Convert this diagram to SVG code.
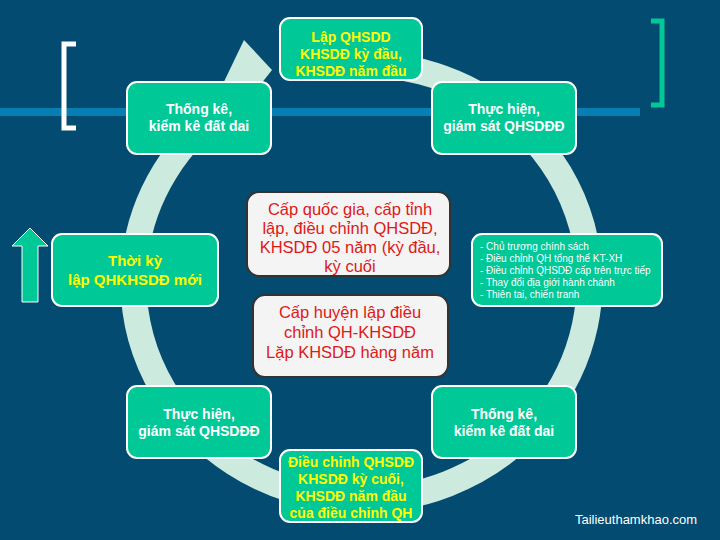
<svg xmlns="http://www.w3.org/2000/svg" width="720" height="540" viewBox="0 0 720 540">
<style>
.n{fill:#00c896;stroke:#ffffff;stroke-width:2}
.w{font-family:"Liberation Sans",Arial,sans-serif;font-size:14px;fill:#fff;text-anchor:middle;font-weight:bold}
.y{font-family:"Liberation Sans",Arial,sans-serif;font-size:14px;fill:#ffff00;text-anchor:middle;font-weight:bold}
.c{fill:#f4f4f4;stroke:#333;stroke-width:2}
.r{font-family:"Liberation Sans",Arial,sans-serif;font-size:16.5px;fill:#e01818;text-anchor:middle}
.s{font-family:"Liberation Sans",Arial,sans-serif;font-size:10px;fill:#fff}
</style>
<rect width="720" height="540" fill="#034b70"/>
<rect x="0" y="108" width="640" height="8" fill="#0a8cc4" opacity="0.8"/>
<path d="M76 44H64V128H76" fill="none" stroke="#fff" stroke-width="5"/>
<path d="M651 21H662V105H651" fill="none" stroke="#00c896" stroke-width="5"/>
<g id="connectors">
<path d="M318 68 A228 218 0 1 1 236 100" fill="none" stroke="#cdeade" stroke-width="26"/>
<polygon points="244,40 272,70 234,118 220,90" fill="#cdeade"/>
</g>
<path d="M30 228L12 246H22V302H38V246H48Z" fill="#00c896" stroke="#fff" stroke-width="1"/>
<g id="n1"><rect class="n" x="280" y="18" width="142" height="62" rx="10"/><text class="y" x="351" y="42">Lập QHSDD</text><text class="y" x="351" y="59">KHSDĐ kỳ đầu,</text><text class="y" x="351" y="76">KHSDĐ năm đầu</text></g>
<g id="n2"><rect class="n" x="432" y="82" width="144" height="72" rx="10"/><text class="w" x="504" y="114">Thực hiện,</text><text class="w" x="504" y="131">giám sát QHSDĐĐ</text></g>
<g id="n3"><rect class="n" x="472" y="234" width="190" height="72" rx="10"/>
<text class="s" x="480" y="250">- Chủ trương chính sách</text><text class="s" x="480" y="262">- Điều chỉnh QH tổng thể KT-XH</text><text class="s" x="480" y="274">- Điều chỉnh QHSDĐ cấp trên trực tiếp</text><text class="s" x="480" y="286">- Thay đổi địa giới hành chánh</text><text class="s" x="480" y="298">- Thiên tai, chiến tranh</text></g>
<g id="n4"><rect class="n" x="432" y="386" width="144" height="72" rx="10"/><text class="w" x="504" y="419">Thống kê,</text><text class="w" x="504" y="436">kiểm kê đất dai</text></g>
<g id="n5"><rect class="n" x="280" y="450" width="142" height="72" rx="10"/><text class="y" x="351" y="467">Điều chỉnh QHSDĐ</text><text class="y" x="351" y="484">KHSDĐ kỳ cuối,</text><text class="y" x="351" y="501">KHSDĐ năm đầu</text><text class="y" x="351" y="518">của điều chỉnh QH</text></g>
<g id="n6"><rect class="n" x="127" y="386" width="144" height="72" rx="10"/><text class="w" x="199" y="419">Thực hiện,</text><text class="w" x="199" y="436">giám sát QHSDĐĐ</text></g>
<g id="n7"><rect class="n" x="52" y="234" width="166" height="72" rx="10"/><text class="y" x="135" y="266" style="font-size:15px">Thời kỳ</text><text class="y" x="135" y="285" style="font-size:15px">lập QHKHSDĐ mới</text></g>
<g id="n8"><rect class="n" x="127" y="82" width="144" height="72" rx="10"/><text class="w" x="199" y="114">Thống kê,</text><text class="w" x="199" y="131">kiểm kê đất dai</text></g>
<g id="c1"><rect class="c" x="247" y="192" width="203" height="84" rx="12"/><text class="r" x="350" y="215">Cấp quốc gia, cấp tỉnh</text><text class="r" x="350" y="234">lập, điều chỉnh QHSDĐ,</text><text class="r" x="350" y="253">KHSDĐ 05 năm (kỳ đầu,</text><text class="r" x="350" y="272">kỳ cuối</text></g>
<g id="c2"><rect class="c" x="253" y="295" width="195" height="82" rx="12"/><text class="r" x="350" y="318">Cấp huyện lập điều</text><text class="r" x="350" y="338">chỉnh QH-KHSDĐ</text><text class="r" x="350" y="358">Lặp KHSDĐ hàng năm</text></g>
<text x="636" y="524" style="font-family:'Liberation Sans',Arial,sans-serif;font-size:13px;fill:#fff;text-anchor:middle">Tailieuthamkhao.com</text>
</svg>
